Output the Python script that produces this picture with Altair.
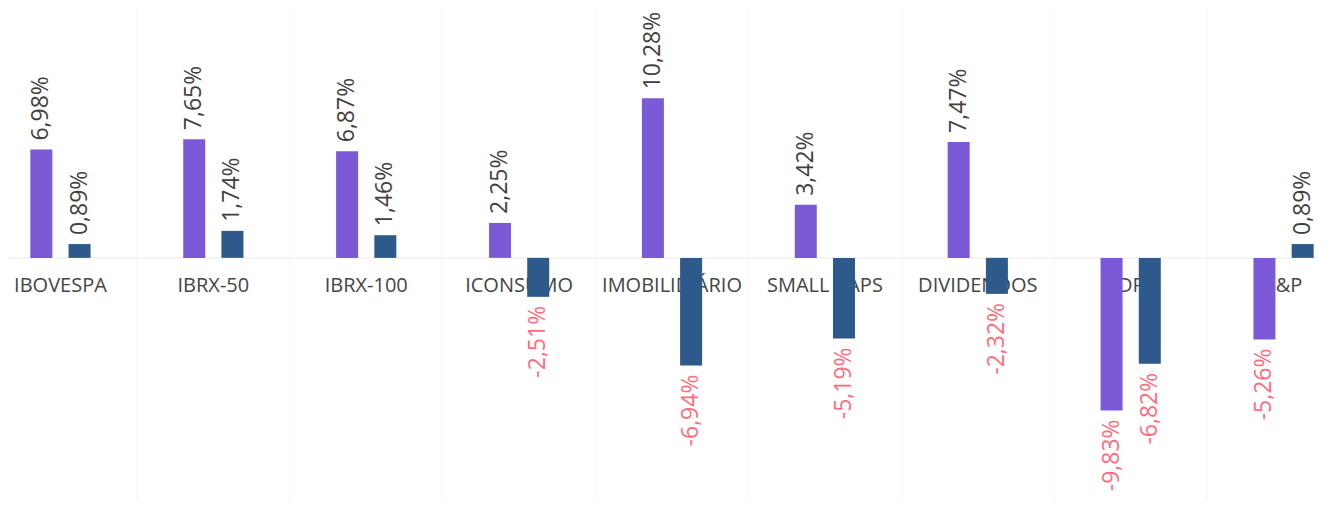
import altair as alt
import pandas as pd

categories = ["IBOVESPA", "IBRX-50", "IBRX-100", "ICONSUMO", "IMOBILIDIÁRIO",
              "SMALL CAPS", "DIVIDENDOS", "BDRX", "S&P"]
series_names = ["Série 1", "Série 2"]
serie1 = [6.98, 7.65, 6.87, 2.25, 10.28, 3.42, 7.47, -9.83, -5.26]
serie2 = [0.89, 1.74, 1.46, -2.51, -6.94, -5.19, -2.32, -6.82, 0.89]

rows = []
for c, a, b in zip(categories, serie1, serie2):
    rows.append({"cat": c, "series": series_names[0], "value": a})
    rows.append({"cat": c, "series": series_names[1], "value": b})
df = pd.DataFrame(rows)
cats_df = pd.DataFrame({"cat": categories, "zero": [0.0] * len(categories)})

PURPLE = "#7C5AD7"
BLUE = "#2D5A8A"
FONT = "Open Sans"

x_enc = alt.X(
    "cat:N", sort=categories, title=None,
    scale=alt.Scale(range=[-24, 1352], paddingInner=0, paddingOuter=0),
    axis=alt.Axis(grid=True, gridColor="#f8f8f8", bandPosition=0, labels=False,
                  ticks=False, domain=False, title=None),
)
xo_enc = alt.XOffset("series:N", sort=series_names,
                     scale=alt.Scale(paddingInner=0, paddingOuter=1))
y_scale = alt.Scale(domain=[-15.6, 16.1], nice=False, zero=False)

base = alt.Chart(df).transform_calculate(
    label="(datum.value < 0 ? '-' : '') + replace(format(abs(datum.value), '.2f'), '.', ',') + '%'"
)

zero_rule = alt.Chart(cats_df).mark_rule(color="#f3f3f3", strokeWidth=1).encode(
    y=alt.Y("zero:Q", scale=y_scale, axis=None)
)

cat_labels = alt.Chart(cats_df).mark_text(
    dy=28, fontSize=20, font=FONT, color="#454545", baseline="middle", align="center"
).encode(
    x=x_enc,
    y=alt.Y("zero:Q", scale=y_scale, axis=None),
    text="cat:N",
)

bars = base.mark_bar(width=22).encode(
    x=x_enc,
    xOffset=xo_enc,
    y=alt.Y("value:Q", scale=y_scale, axis=None, title=None),
    color=alt.Color("series:N", sort=series_names,
                    scale=alt.Scale(domain=series_names, range=[PURPLE, BLUE]),
                    legend=None),
)

pos_labels = base.transform_filter("datum.value >= 0").mark_text(
    angle=270, align="left", baseline="middle", dx=9, fontSize=23, font=FONT,
    color="#404040"
).encode(
    x=x_enc, xOffset=xo_enc,
    y=alt.Y("value:Q", scale=y_scale, axis=None),
    text="label:N",
)

neg_labels = base.transform_filter("datum.value < 0").mark_text(
    angle=270, align="right", baseline="middle", dx=-9, fontSize=23, font=FONT,
    color="#FF6B7D"
).encode(
    x=x_enc, xOffset=xo_enc,
    y=alt.Y("value:Q", scale=y_scale, axis=None),
    text="label:N",
)

chart = alt.layer(zero_rule, cat_labels, bars, pos_labels, neg_labels).properties(
    width=1309, height=492,
    autosize=alt.AutoSizeParams(type="none"),
    padding=0,
    background="white",
).configure_view(stroke=None)

chart.save("out.html", embed_options={"renderer": "svg", "actions": False})
